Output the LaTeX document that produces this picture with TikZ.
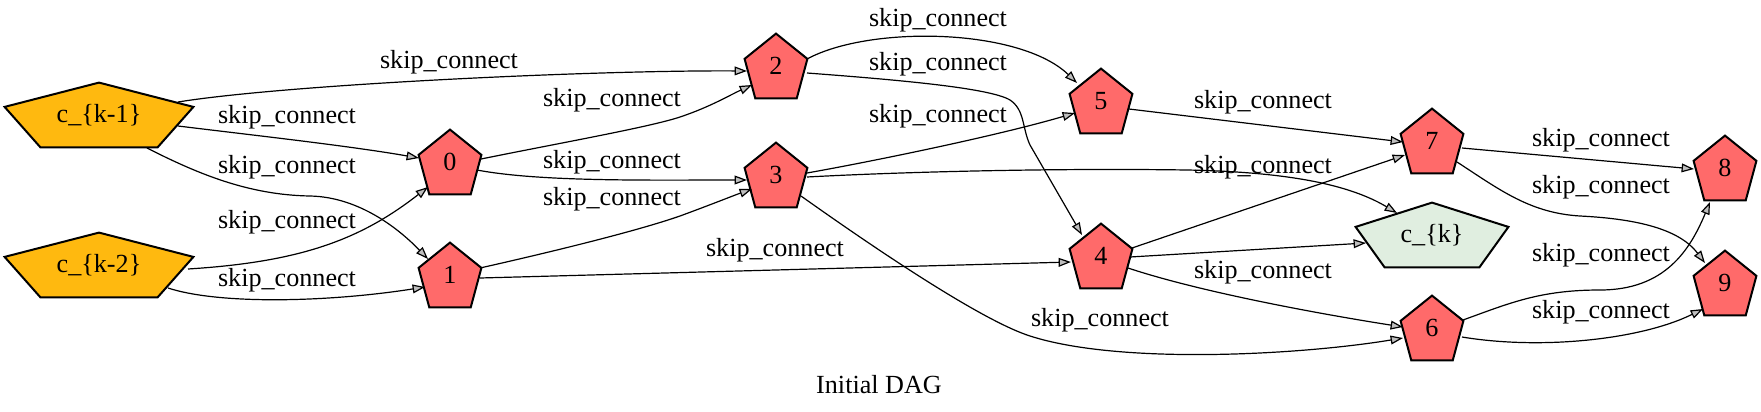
\documentclass[tikz,border=0pt]{standalone}
\usepackage{fontspec}
\setmainfont{Liberation Serif}
\usetikzlibrary{calc,arrows.meta,backgrounds}
\definecolor{nred}{HTML}{FF6A6A}
\definecolor{ngold}{HTML}{FFB90F}
\definecolor{ngreen}{HTML}{E0EEE0}
\definecolor{tipgray}{HTML}{BEBEBE}
\newcommand{\drawpent}[5]{% name, fill, left-bottom frac, right-bottom frac, side frac
  \filldraw[fill=#2, line width=1pt, line join=miter]
    (#1.north) -- ($(#1.north east)!#5!(#1.south east)$)
    -- ($(#1.south west)!#4!(#1.south east)$)
    -- ($(#1.south west)!#3!(#1.south east)$)
    -- ($(#1.north west)!#5!(#1.south west)$) -- cycle;}
\begin{document}
\begin{tikzpicture}[x=0.5pt,y=-0.5pt,
  every node/.style={font=\fontsize{13.07}{15}\selectfont},
  opnode/.style={inner sep=0pt,minimum width=31pt,minimum height=32pt},
  innode/.style={inner sep=0pt,minimum width=94pt,minimum height=32pt},
  outnode/.style={inner sep=0pt,minimum width=76pt,minimum height=32pt},
  lab/.style={inner sep=0pt},
  edge/.style={line width=0.6pt,-{Triangle[length=6.2pt,width=4.4pt,fill=tipgray]}}]
\useasboundingbox (0,0) rectangle (1761,412);
% nodes
\node[innode] (ckm1) at (99,115) {c\_\{k-1\}};
\node[innode] (ckm2) at (99,265) {c\_\{k-2\}};
\node[opnode] (n0) at (450,162) {0};
\node[opnode] (n1) at (450,275) {1};
\node[opnode] (n2) at (776,66) {2};
\node[opnode] (n3) at (776,175) {3};
\node[opnode] (n5) at (1101,101) {5};
\node[opnode] (n4) at (1101,256) {4};
\node[outnode] (ck) at (1432,235) {c\_\{k\}};
\node[opnode] (n7) at (1432,141) {7};
\node[opnode] (n6) at (1432,328) {6};
\node[opnode] (n8) at (1725,168) {8};
\node[opnode] (n9) at (1725,283) {9};
\begin{scope}[on background layer]
\drawpent{ckm1}{ngold}{0.19}{0.81}{0.375}
\drawpent{ckm2}{ngold}{0.19}{0.81}{0.375}
\drawpent{ck}{ngreen}{0.19}{0.81}{0.375}
\drawpent{n0}{nred}{0.17}{0.83}{0.39}
\drawpent{n1}{nred}{0.17}{0.83}{0.39}
\drawpent{n2}{nred}{0.17}{0.83}{0.39}
\drawpent{n3}{nred}{0.17}{0.83}{0.39}
\drawpent{n4}{nred}{0.17}{0.83}{0.39}
\drawpent{n5}{nred}{0.17}{0.83}{0.39}
\drawpent{n6}{nred}{0.17}{0.83}{0.39}
\drawpent{n7}{nred}{0.17}{0.83}{0.39}
\drawpent{n8}{nred}{0.17}{0.83}{0.39}
\drawpent{n9}{nred}{0.17}{0.83}{0.39}
\end{scope}
% edges
\draw[edge] ($(ckm1)+(79,-13)$) .. controls (290,84) and (600,70) .. ($(n2)+(-29,5)$);
\draw[edge] ($(ckm1)+(79,11)$) .. controls (260,136) and (350,146) .. ($(n0)+(-31,-4)$);
\draw[edge] ($(ckm1)+(48,33)$) .. controls (200,175) and (250,195) .. (310,196) .. controls (360,197) and (400,230) .. ($(n1)+(-22,-16)$);
\draw[edge] ($(ckm2)+(89,4)$) .. controls (300,262) and (360,240) .. ($(n0)+(-22,25)$);
\draw[edge] ($(ckm2)+(69,23)$) .. controls (220,305) and (330,302) .. ($(n1)+(-25,12)$);
\draw[edge] ($(n0)+(31,-3)$) .. controls (560,143) and (650,127) .. (680,117) .. controls (710,107) and (730,95) .. ($(n2)+(-24,19)$);
\draw[edge] ($(n0)+(27,8)$) .. controls (540,182) and (650,180) .. ($(n3)+(-29,5)$);
\draw[edge] ($(n1)+(30,-7)$) .. controls (560,250) and (640,230) .. (680,216) .. controls (710,205) and (735,195) .. ($(n3)+(-24,14)$);
\draw[edge] ($(n1)+(30,3)$) -- ($(n4)+(-30,6)$);
\draw[edge] ($(n2)+(31,-7)$) .. controls (870,25) and (1020,28) .. ($(n5)+(-24,-18)$);
\draw[edge] ($(n2)+(31,7)$) .. controls (900,80) and (990,88) .. (1010,100) .. controls (1025,110) and (1022,128) .. (1030,145) -- ($(n4)+(-19,-21)$);
\draw[edge] ($(n3)+(31,-2)$) .. controls (880,160) and (1000,135) .. ($(n5)+(-26,12)$);
\draw[edge] ($(n3)+(31,2)$) .. controls (900,172) and (1050,168) .. (1187,170) .. controls (1290,172) and (1350,185) .. ($(ck)+(-35,-22)$);
\draw[edge] ($(n3)+(25,21)$) .. controls (870,245) and (980,320) .. (1030,336) .. controls (1120,365) and (1300,355) .. ($(n6)+(-29,10)$);
\draw[edge] ($(n5)+(28,8)$) -- ($(n7)+(-29,1)$);
\draw[edge] ($(n4)+(31,-8)$) -- ($(n7)+(-27,14)$);
\draw[edge] ($(n4)+(29,1)$) -- ($(ck)+(-66,8)$);
\draw[edge] ($(n4)+(27,12)$) .. controls (1200,292) and (1320,314) .. ($(n6)+(-29,-1)$);
\draw[edge] ($(n7)+(30,7)$) -- ($(n8)+(-31,1)$);
\draw[edge] ($(n7)+(25,21)$) .. controls (1500,190) and (1530,213) .. (1580,216) .. controls (1640,219) and (1680,230) .. ($(n9)+(-20,-20)$);
\draw[edge] ($(n6)+(31,-8)$) .. controls (1510,303) and (1540,290) .. (1600,290) .. controls (1665,290) and (1690,250) .. ($(n8)+(-15,34)$);
\draw[edge] ($(n6)+(30,9)$) .. controls (1540,350) and (1640,340) .. ($(n9)+(-22,26)$);
% edge labels
\node[lab] (l1) at (449,62) {skip\_connect};
\node[lab] (l2) at (287,117) {skip\_connect};
\node[lab] (l3) at (287,167) {skip\_connect};
\node[lab] (l4) at (287,222) {skip\_connect};
\node[lab] (l5) at (287,280) {skip\_connect};
\node[lab] (l6) at (612,100) {skip\_connect};
\node[lab] (l7) at (612,162) {skip\_connect};
\node[lab] (l8) at (612,199) {skip\_connect};
\node[lab] (l9) at (775,250) {skip\_connect};
\node[lab] (l10) at (938,20) {skip\_connect};
\node[lab] (l11) at (938,64) {skip\_connect};
\node[lab] (l12) at (938,116) {skip\_connect};
\node[lab] (l13) at (1100,320) {skip\_connect};
\node[lab] (l14) at (1263,102) {skip\_connect};
\node[lab] (l15) at (1263,167) {skip\_connect};
\node[lab] (l16) at (1263,272) {skip\_connect};
\node[lab] (l17) at (1601,140) {skip\_connect};
\node[lab] (l18) at (1601,187) {skip\_connect};
\node[lab] (l19) at (1601,255) {skip\_connect};
\node[lab] (l20) at (1601,312) {skip\_connect};
% title
\node[lab] (title) at (879,385) {Initial DAG};
\end{tikzpicture}
\end{document}
